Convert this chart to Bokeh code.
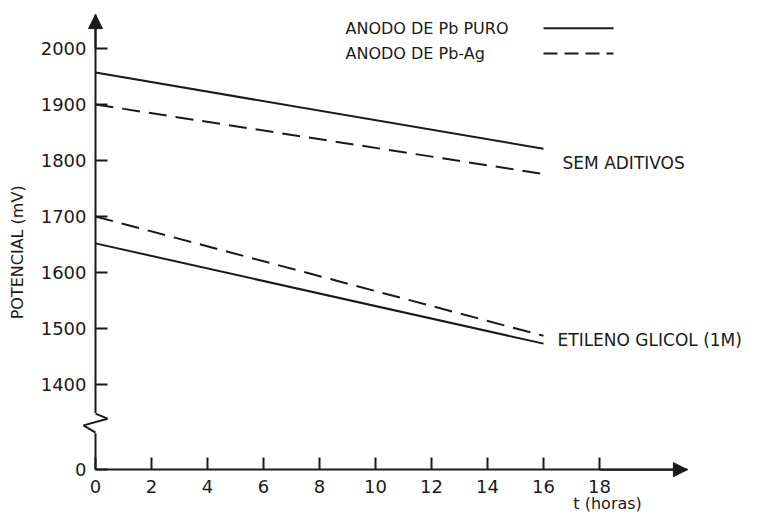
import math
from bokeh.plotting import figure
from bokeh.models import FixedTicker, Label, Arrow, NormalHead, Range1d
from bokeh.embed import file_html
from bokeh.resources import INLINE

# ---- data ----
hours = [0, 16]
pb_puro_sem_aditivos = [1957, 1821]
pb_ag_sem_aditivos = [1900, 1776]
pb_puro_etileno = [1652, 1473]
pb_ag_etileno = [1700, 1487]

x_ticks = [0, 2, 4, 6, 8, 10, 12, 14, 16, 18]
y_ticks = [1400, 1500, 1600, 1700, 1800, 1900, 2000]

# broken y axis: the value 0 is drawn at this plot position
Y_ZERO = 1248
Y_TOP = 2060.5
X_END = 21.14

INK = "#1a1a1a"
FONT = "DejaVu Sans"

# the frame covers the whole canvas; axes are fixed at x=0 and at the "0" level
p = figure(width=760, height=514,
           x_range=Range1d(-3.393, 23.75), y_range=Range1d(1167.9, 2085.7),
           output_backend="svg", toolbar_location=None,
           min_border=0, min_border_left=0, min_border_right=0,
           min_border_top=0, min_border_bottom=0)
p.outline_line_color = None
p.grid.visible = False
p.background_fill_color = "white"
p.border_fill_color = "white"

for ax in (p.xaxis[0], p.yaxis[0]):
    ax.axis_line_width = 2
    ax.axis_line_color = INK
    ax.major_tick_in = 12
    ax.major_tick_out = 0
    ax.major_tick_line_width = 2
    ax.major_tick_line_color = INK
    ax.minor_tick_line_color = None
    ax.major_label_text_font = FONT
    ax.major_label_text_font_size = "18px"
    ax.major_label_text_color = INK

p.xaxis.fixed_location = Y_ZERO
p.xaxis.bounds = (0, X_END)
p.xaxis.ticker = FixedTicker(ticks=x_ticks)
p.xaxis.major_label_standoff = 10

p.yaxis.fixed_location = 0
p.yaxis.bounds = (Y_ZERO, Y_TOP)
p.yaxis.ticker = FixedTicker(ticks=[Y_ZERO] + y_ticks)
p.yaxis.major_label_overrides = {Y_ZERO: "0"}
p.yaxis.major_label_standoff = 9

# data lines
p.line(hours, pb_puro_sem_aditivos, line_width=2, line_color=INK)
p.line(hours, pb_ag_sem_aditivos, line_width=2, line_color=INK, line_dash="18 9")
p.line(hours, pb_puro_etileno, line_width=2, line_color=INK)
p.line(hours, pb_ag_etileno, line_width=2, line_color=INK, line_dash="18 9")

# axis arrows
p.add_layout(Arrow(end=NormalHead(size=14, fill_color=INK, line_color=INK, line_width=1),
                   x_start=0, y_start=2000, x_end=0, y_end=Y_TOP,
                   line_width=2, line_color=INK))
p.add_layout(Arrow(end=NormalHead(size=14, fill_color=INK, line_color=INK, line_width=1),
                   x_start=18, y_start=Y_ZERO, x_end=X_END, y_end=Y_ZERO,
                   line_width=2, line_color=INK))

# axis break (zigzag)
p.add_layout(Arrow(end=None, x_start=0, y_start=1349, x_end=0, y_end=1313,
                   line_width=5, line_color="white"))
zig_x = [0, 0.43, -0.43, 0]
zig_y = [1348, 1339, 1327, 1314]
for i in range(3):
    p.add_layout(Arrow(end=None, x_start=zig_x[i], y_start=zig_y[i],
                       x_end=zig_x[i + 1], y_end=zig_y[i + 1],
                       line_width=2, line_color=INK))

# y axis title
p.add_layout(Label(x=-2.786, y=1636, text="POTENCIAL (mV)", angle=math.pi / 2,
                   text_font=FONT, text_font_size="16px", text_color=INK,
                   text_align="center", text_baseline="middle"))

# legend (text then line sample, as in the original)
p.add_layout(Label(x=8.93, y=2036, text="ANODO DE Pb PURO", text_font=FONT,
                   text_font_size="16px", text_color=INK, text_baseline="middle"))
p.add_layout(Label(x=8.93, y=1991, text="ANODO DE Pb-Ag", text_font=FONT,
                   text_font_size="16px", text_color=INK, text_baseline="middle"))
p.segment(x0=[16.0], y0=[2036], x1=[18.5], y1=[2036], line_width=2, line_color=INK)
p.segment(x0=[16.0], y0=[1991], x1=[18.5], y1=[1991], line_width=2, line_color=INK,
          line_dash="14 7")

# curve annotations
p.add_layout(Label(x=16.68, y=1795, text="SEM ADITIVOS", text_font=FONT,
                   text_font_size="17px", text_color=INK, text_baseline="middle"))
p.add_layout(Label(x=16.5, y=1479, text="ETILENO GLICOL (1M)", text_font=FONT,
                   text_font_size="17px", text_color=INK, text_baseline="middle"))

# x axis title placed to the right, as in the original
p.add_layout(Label(x=18.29, y=1187, text="t (horas)", text_font=FONT,
                   text_font_size="16px", text_color=INK, text_baseline="middle",
                   text_align="center"))

open("out.html", "w").write(file_html(p, INLINE))
